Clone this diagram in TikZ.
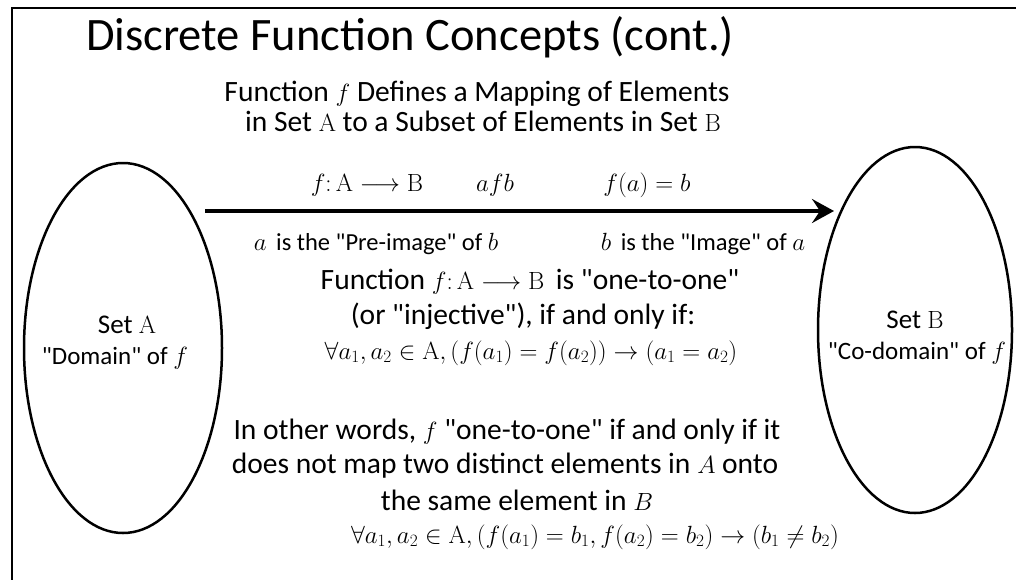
\documentclass[tikz,border=0pt]{standalone}
\usepackage[no-math]{fontspec}
\setmainfont{Carlito}[Ligatures=TeXOff]
\usetikzlibrary{arrows.meta,shapes.geometric}
\tikzset{
  body/.style={inner sep=0pt, font=\fontsize{29.5}{34}\selectfont},
  mathrow/.style={inner sep=0pt, font=\fontsize{28}{32}\selectfont},
  mathline/.style={inner sep=0pt, font=\fontsize{25.5}{30}\selectfont},
  small/.style={inner sep=0pt, font=\fontsize{24.5}{29}\selectfont},
  setlab/.style={inner sep=0pt, font=\fontsize{27}{31}\selectfont},
  setsub/.style={inner sep=0pt, font=\fontsize{25}{29}\selectfont},
  setshape/.style={draw, line width=2.5pt, ellipse, inner sep=0pt},
  maparrow/.style={line width=3.5pt, -{Stealth[length=22pt,width=24pt,inset=8pt]}},
  frame/.style={line width=2.5pt}
}
\begin{document}
\begin{tikzpicture}[x=1pt,y=-1pt]
\useasboundingbox (0,0) rectangle (1016,579);
\draw[frame] (1016,8) -- (12,8) -- (12,580);
\node[inner sep=0pt, anchor=base west, font=\fontsize{46.5}{52}\selectfont] (title) at (86,50) {Discrete Function Concepts (cont.)};
% sets
\node[setshape, minimum width=198pt, minimum height=370pt] (A) at (123,348) {};
\node[setshape, minimum width=194pt, minimum height=366pt] (B) at (915,330) {};
\node[setlab] (Alab) at (127,325) {Set $\mathrm{A}$};
\node[setsub] (Adom) at (115,358) {"Domain" of $f$};
\node[setlab] (Blab) at (915,320) {Set $\mathrm{B}$};
\node[setsub] (Bdom) at (917,353) {"Co-domain" of $f$};
% arrow
\coordinate (s) at (205,211);
\coordinate (e) at (834,211);
\draw[maparrow] (s) -- (e);
% texts
\node[body] (t1) at (477,94) {Function $f$ Defines a Mapping of Elements};
\node[body] (t2) at (483,121) {in Set $\mathrm{A}$ to a Subset of Elements in Set $\mathrm{B}$};
\node[mathrow] (m1) at (367,185) {$f\colon \mathrm{A} \longrightarrow \mathrm{B}$};
\node[mathrow] (m2) at (495,185) {$afb$};
\node[mathrow] (m3) at (647,185) {$f(a) = b$};
\node[small] (p1) at (376,244) {$a$\, is the "Pre-image" of $b$};
\node[small] (p2) at (703,244) {$b$\, is the "Image" of $a$};
\node[body] (o1) at (530,282) {Function $f\colon \mathrm{A} \longrightarrow \mathrm{B}$\, is "one-to-one"};
\node[body] (o2) at (523,316) {(or "injective"), if and only if:};
\node[mathline] (o3) at (531,353) {$\forall a_1, a_2 \in \mathrm{A}, \bigl(f(a_1) = f(a_2)\bigr) \rightarrow (a_1 = a_2)$};
\node[body] (w1) at (507,432) {In other words, $f$ "one-to-one" if and only if it};
\node[body] (w2) at (505,466) {does not map two distinct elements in $A$ onto};
\node[body] (w3) at (517,500) {the same element in $B$};
\node[mathline] (w4) at (595,537) {$\forall a_1, a_2 \in \mathrm{A}, (f(a_1) = b_1, f(a_2) = b_2) \rightarrow (b_1 \neq b_2)$};
\end{tikzpicture}
\end{document}
